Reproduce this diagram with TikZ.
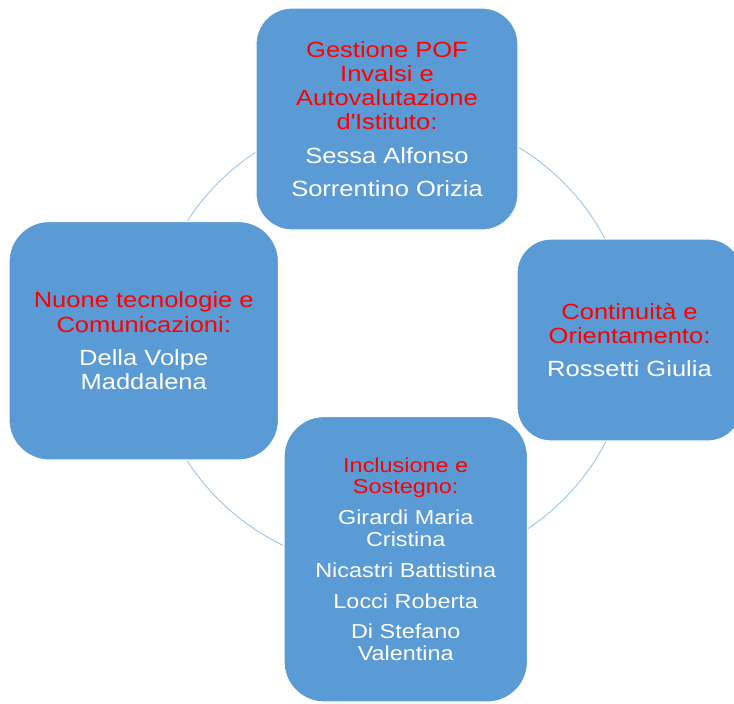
\documentclass[tikz,border=0pt]{standalone}
\usepackage{fontspec}
\setmainfont{Liberation Sans}[FakeStretch=1.16]
\definecolor{boxblue}{RGB}{91,155,213}
\definecolor{ringblue}{RGB}{157,195,230}
\definecolor{headred}{RGB}{255,0,0}
\tikzset{
  area/.style={draw=white, line width=1.2pt, fill=boxblue, text=white,
    align=center, inner sep=0pt, rectangle},
  bigtext/.style={font=\fontsize{22}{24.2}\selectfont},
  smalltext/.style={font=\fontsize{20.2}{21.8}\selectfont},
  ring/.style={draw=ringblue, line width=0.9pt}
}
\newcommand{\hd}[1]{\textcolor{headred}{#1}}
\begin{document}
\begin{tikzpicture}[x=1pt,y=-1pt]
  \useasboundingbox (0,0) rectangle (734,704);
  % cycle ring behind the four areas
  \draw[ring] (391,341) ellipse [x radius=239, y radius=229];

  % top area
  \node[area, bigtext, rounded corners=36pt, minimum width=262pt,
        minimum height=222pt] (gestione) at (387,119)
    {\hd{Gestione POF}\\\hd{Invalsi e}\\\hd{Autovalutazione}\\\hd{d\textquotesingle Istituto:}\\[9pt]
     Sessa Alfonso\\[9pt]Sorrentino Orizia};

  % right area
  \node[area, bigtext, rounded corners=34pt, minimum width=225pt,
        minimum height=202pt] (continuita) at (629.5,340)
    {\hd{Continuità e}\\\hd{Orientamento:}\\[9pt]Rossetti Giulia};

  % bottom area
  \node[area, smalltext, rounded corners=40pt, minimum width=243.5pt,
        minimum height=285.5pt] (inclusione) at (405.75,559.25)
    {\hd{Inclusione e}\\\hd{Sostegno:}\\[9pt]
     Girardi Maria\\Cristina\\[9pt]Nicastri Battistina\\[9pt]
     Locci Roberta\\[9pt]Di Stefano\\Valentina};

  % left area
  \node[area, bigtext, rounded corners=40pt, minimum width=269.5pt,
        minimum height=238.5pt] (tecnologie) at (143.75,340.75)
    {\hd{Nuone tecnologie e}\\\hd{Comunicazioni:}\\[9pt]
     Della Volpe\\Maddalena};
\end{tikzpicture}
\end{document}
